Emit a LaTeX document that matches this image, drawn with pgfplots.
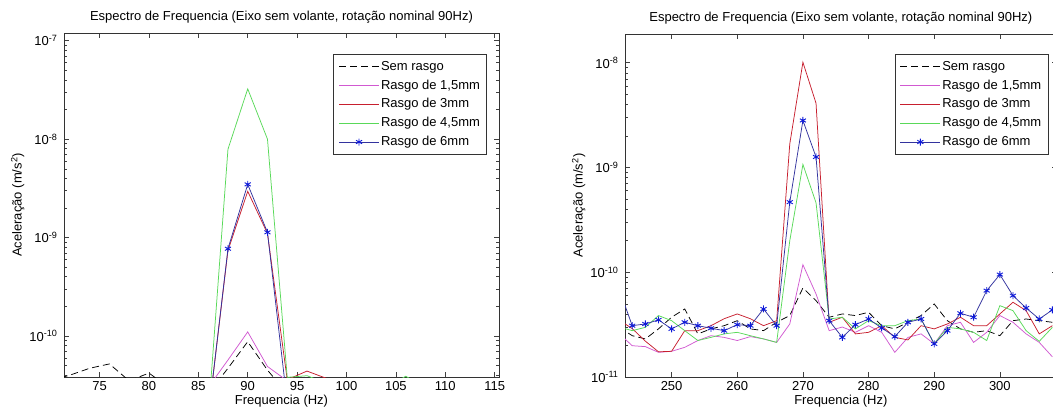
\documentclass[border=0pt]{standalone}
\usepackage{fontspec}
\setmainfont{Liberation Sans}
\usepackage{pgfplots}
\usepackage{pgfplotstable}
\pgfplotsset{compat=1.18}

\definecolor{cblack}{rgb}{0,0,0}
\definecolor{cmag}{rgb}{0.82,0.35,0.82}
\definecolor{cred}{rgb}{0.78,0.12,0.18}
\definecolor{cgreen}{rgb}{0.35,0.85,0.35}
\definecolor{cblue}{rgb}{0.2,0.2,0.62}
\definecolor{cmark}{rgb}{0.05,0.1,0.85}

\newcommand\f{\fontsize{13}{15}\selectfont}

\pgfplotstableread{
x   bk       mg       rd       gr       bl
70  3.5e-11  2.5e-11  2.5e-11  2.5e-11  2.5e-11
72  4.0e-11  2.5e-11  2.5e-11  2.5e-11  2.5e-11
74  4.7e-11  2.5e-11  2.5e-11  2.5e-11  2.5e-11
76  5.2e-11  2.5e-11  2.5e-11  2.5e-11  2.5e-11
78  3.5e-11  2.5e-11  2.5e-11  2.5e-11  2.5e-11
80  4.2e-11  2.5e-11  2.5e-11  2.5e-11  2.5e-11
82  3.0e-11  2.5e-11  2.5e-11  2.5e-11  2.5e-11
84  2.6e-11  2.5e-11  2.5e-11  2.5e-11  2.5e-11
86  2.6e-11  3.0e-11  1.5e-11  1.5e-11  1.5e-11
88  4.7e-11  5.7e-11  7.4e-10  7.9e-9   7.7e-10
90  8.75e-11 1.1e-10  2.95e-9  3.24e-8  3.47e-9
92  4.5e-11  4.9e-11  1.1e-9   1.0e-8   1.13e-9
94  2.6e-11  3.5e-11  3.6e-11  3.8e-11  2.1e-11
96  3.6e-11  2.8e-11  4.4e-11  3.95e-11 3.0e-11
98  3.0e-11  2.5e-11  3.7e-11  3.3e-11  2.6e-11
100 2.6e-11  2.5e-11  2.6e-11  2.8e-11  2.5e-11
102 2.6e-11  2.5e-11  2.6e-11  2.6e-11  2.5e-11
104 2.6e-11  2.5e-11  2.6e-11  3.0e-11  2.5e-11
106 2.6e-11  2.5e-11  2.6e-11  3.9e-11  2.5e-11
108 2.6e-11  2.5e-11  2.6e-11  3.0e-11  2.5e-11
110 2.6e-11  2.5e-11  2.6e-11  2.6e-11  2.5e-11
112 2.6e-11  2.5e-11  2.6e-11  2.6e-11  2.5e-11
114 2.6e-11  2.5e-11  2.6e-11  2.6e-11  2.5e-11
116 2.6e-11  2.5e-11  2.6e-11  2.6e-11  2.5e-11
}\leftdata

\pgfplotstableread{
x   bk       mg       rd       gr       bl
242 3.0e-11  2.6e-11  3.5e-11  3.0e-11  6.93e-11
244 2.48e-11 1.99e-11 2.9e-11  2.77e-11 3.09e-11
246 2.31e-11 1.95e-11 2.2e-11  2.98e-11 3.21e-11
248 2.88e-11 1.72e-11 1.74e-11 3.86e-11 3.51e-11
250 3.72e-11 1.76e-11 1.76e-11 3.45e-11 2.88e-11
252 4.46e-11 1.92e-11 2.77e-11 2.77e-11 3.33e-11
254 2.58e-11 2.23e-11 2.77e-11 2.23e-11 3.09e-11
256 2.88e-11 2.48e-11 3.09e-11 2.39e-11 2.92e-11
258 3.09e-11 2.39e-11 3.6e-11  2.58e-11 2.77e-11
260 3.45e-11 2.23e-11 4.0e-11  2.67e-11 3.16e-11
262 2.88e-11 2.43e-11 3.6e-11  2.48e-11 3.09e-11
264 2.77e-11 2.31e-11 3.09e-11 2.31e-11 4.46e-11
266 3.33e-11 2.14e-11 3.45e-11 2.14e-11 3.09e-11
268 3.86e-11 3.21e-11 1.68e-9  2.0e-10  4.67e-10
270 7.08e-11 1.18e-10 1.01e-8  1.07e-9  2.81e-9
272 5.36e-11 6.2e-11  4.1e-9   4.6e-10  1.26e-9
274 3.72e-11 2.77e-11 3.33e-11 3.58e-11 3.45e-11
276 4.0e-11  3.0e-11  3.72e-11 3.72e-11 2.39e-11
278 3.86e-11 2.67e-11 2.58e-11 2.88e-11 3.16e-11
280 4.15e-11 3.09e-11 2.67e-11 3.45e-11 3.58e-11
282 3.09e-11 2.67e-11 3.09e-11 3.09e-11 2.94e-11
284 2.88e-11 1.72e-11 2.39e-11 3.09e-11 2.43e-11
286 3.33e-11 2.39e-11 2.26e-11 3.45e-11 3.33e-11
288 3.86e-11 2.58e-11 3.09e-11 3.58e-11 3.58e-11
290 4.98e-11 2.07e-11 2.88e-11 2.07e-11 2.07e-11
292 3.45e-11 3.09e-11 3.21e-11 2.98e-11 2.77e-11
294 2.88e-11 3.33e-11 3.72e-11 2.88e-11 4.06e-11
296 2.67e-11 2.14e-11 3.09e-11 2.67e-11 3.72e-11
298 2.77e-11 2.67e-11 3.09e-11 2.23e-11 6.68e-11
300 2.48e-11 3.86e-11 4.0e-11  4.8e-11  9.5e-11
302 3.45e-11 3.33e-11 5.17e-11 4.3e-11  5.98e-11
304 3.58e-11 2.58e-11 4.3e-11  2.77e-11 4.56e-11
306 3.45e-11 2.14e-11 2.58e-11 2.19e-11 3.58e-11
308 3.33e-11 1.56e-11 3.09e-11 2.98e-11 4.37e-11
}\rightdata

\pgfplotsset{
  legend image code/.code={\draw[mark repeat=2,mark phase=2,#1] plot coordinates {(0pt,0pt) (20pt,0pt) (40pt,0pt)};},
  s0/.style={cblack, line width=0.75pt, dash pattern=on 7pt off 4pt},
  s1/.style={cmag, line width=0.75pt},
  s2/.style={cred, line width=0.75pt},
  s3/.style={cgreen, line width=0.75pt},
  s4/.style={cblue, line width=0.75pt, mark=asterisk, mark size=3.5pt, mark options={cmark, solid, line width=0.9pt}},
}

\begin{document}
\begin{tikzpicture}
\begin{axis}[ymode=log, scale only axis, anchor=south west,
  at={(64pt,37pt)}, width=435pt, height=344pt,
  axis line style={line width=0.7pt, black!80},
  tick style={line width=0.5pt, black!75},
  major tick length=5pt, minor tick length=3pt,
  tick align=inside,
  /pgf/number format/assume math mode=true,
  every tick label/.append style={font=\f},
  xticklabel style={yshift=-1pt},
  yticklabel style={xshift=-3pt},
  title style={font=\f},
  label style={font=\f},
  xlabel style={yshift=3pt},
  ylabel style={yshift=-2pt},
  xlabel={Frequencia (Hz)},
  ylabel={Aceleração (m/s\textsuperscript{2})},
  title={Espectro de Frequencia (Eixo sem volante, rotação nominal 90Hz)},
  legend cell align=left,
  legend style={font=\f, draw=black!80, line width=0.8pt, anchor=north east,
    inner xsep=5pt, inner ysep=3pt, row sep=0pt,
    nodes={inner sep=1.6pt, text height=11.2pt, text depth=4.4pt},
    at={(1,1)}, xshift=-12pt, yshift=-21pt},
  xmin=71.4, xmax=115.44, ymin=3.83e-11, ymax=1.197e-7,
  xtick={75,80,...,115},
  ytick={1e-10,1e-9,1e-8,1e-7},
  yticklabels={10\textsuperscript{-10},10\textsuperscript{-9},10\textsuperscript{-8},10\textsuperscript{-7}},
  minor ytick={4e-11,5e-11,6e-11,7e-11,8e-11,9e-11,2e-10,3e-10,4e-10,5e-10,6e-10,7e-10,8e-10,9e-10,2e-9,3e-9,4e-9,5e-9,6e-9,7e-9,8e-9,9e-9,2e-8,3e-8,4e-8,5e-8,6e-8,7e-8,8e-8,9e-8},
]
\addplot[s0] table[x=x,y=bk]{\leftdata}; \addlegendentry{Sem rasgo}
\addplot[s1] table[x=x,y=mg]{\leftdata}; \addlegendentry{Rasgo de 1,5mm}
\addplot[s2] table[x=x,y=rd]{\leftdata}; \addlegendentry{Rasgo de 3mm}
\addplot[s3] table[x=x,y=gr]{\leftdata}; \addlegendentry{Rasgo de 4,5mm}
\addplot[s4] table[x=x,y=bl]{\leftdata}; \addlegendentry{Rasgo de 6mm}
\end{axis}
\begin{axis}[ymode=log, scale only axis, anchor=south west,
  at={(625pt,37pt)}, width=431.7pt, height=343pt,
  axis line style={line width=0.7pt, black!80},
  tick style={line width=0.5pt, black!75},
  major tick length=5pt, minor tick length=3pt,
  tick align=inside,
  /pgf/number format/assume math mode=true,
  every tick label/.append style={font=\f},
  xticklabel style={yshift=-1pt},
  yticklabel style={xshift=-3pt},
  title style={font=\f},
  label style={font=\f},
  xlabel style={yshift=3pt},
  ylabel style={yshift=-2pt},
  xlabel={Frequencia (Hz)},
  ylabel={Aceleração (m/s\textsuperscript{2})},
  title={Espectro de Frequencia (Eixo sem volante, rotação nominal 90Hz)},
  legend cell align=left,
  legend style={font=\f, draw=black!80, line width=0.8pt, anchor=north east,
    inner xsep=5pt, inner ysep=3pt, row sep=0pt,
    nodes={inner sep=1.6pt, text height=11.2pt, text depth=4.4pt},
    at={(1,1)}, xshift=-8.4pt, yshift=-20pt},
  xmin=242.9, xmax=308.66, ymin=1e-11, ymax=1.88e-8,
  xtick={250,260,...,300},
  ytick={1e-11,1e-10,1e-9,1e-8},
  yticklabels={10\textsuperscript{-11},10\textsuperscript{-10},10\textsuperscript{-9},10\textsuperscript{-8}},
  minor ytick={2e-11,3e-11,4e-11,5e-11,6e-11,7e-11,8e-11,9e-11,2e-10,3e-10,4e-10,5e-10,6e-10,7e-10,8e-10,9e-10,2e-9,3e-9,4e-9,5e-9,6e-9,7e-9,8e-9,9e-9},
]
\addplot[s0] table[x=x,y=bk]{\rightdata}; \addlegendentry{Sem rasgo}
\addplot[s1] table[x=x,y=mg]{\rightdata}; \addlegendentry{Rasgo de 1,5mm}
\addplot[s2] table[x=x,y=rd]{\rightdata}; \addlegendentry{Rasgo de 3mm}
\addplot[s3] table[x=x,y=gr]{\rightdata}; \addlegendentry{Rasgo de 4,5mm}
\addplot[s4] table[x=x,y=bl]{\rightdata}; \addlegendentry{Rasgo de 6mm}
\end{axis}
\pgfresetboundingbox
\useasboundingbox (0pt,0pt) rectangle (1053pt,414pt);
\end{tikzpicture}
\end{document}
